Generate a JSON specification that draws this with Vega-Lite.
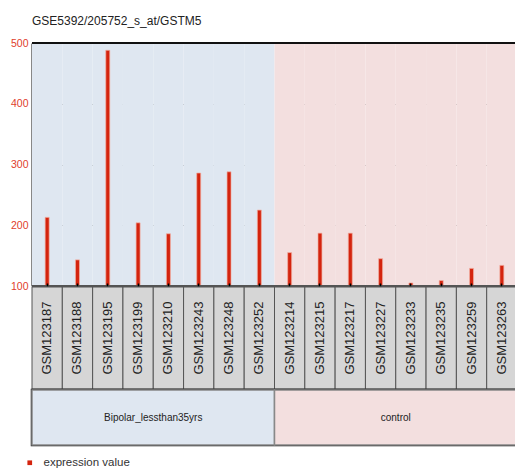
{
  "$schema": "https://vega.github.io/schema/vega-lite/v6.json",
  "background": "white",
  "padding": {"left": 10, "top": 15, "right": 0, "bottom": 0},
  "bounds": "flush",
  "title": {
    "text": "GSE5392/205752_s_at/GSTM5",
    "anchor": "start",
    "frame": "group",
    "font": "Liberation Sans",
    "fontSize": 12,
    "fontWeight": "normal",
    "color": "#222222",
    "offset": 10
  },
  "datasets": {
    "samples": [
      {"sample": "GSM123187", "group": "Bipolar_lessthan35yrs", "value": 213},
      {"sample": "GSM123188", "group": "Bipolar_lessthan35yrs", "value": 143},
      {"sample": "GSM123195", "group": "Bipolar_lessthan35yrs", "value": 488},
      {"sample": "GSM123199", "group": "Bipolar_lessthan35yrs", "value": 204},
      {"sample": "GSM123210", "group": "Bipolar_lessthan35yrs", "value": 186},
      {"sample": "GSM123243", "group": "Bipolar_lessthan35yrs", "value": 286},
      {"sample": "GSM123248", "group": "Bipolar_lessthan35yrs", "value": 288},
      {"sample": "GSM123252", "group": "Bipolar_lessthan35yrs", "value": 225},
      {"sample": "GSM123214", "group": "control", "value": 155},
      {"sample": "GSM123215", "group": "control", "value": 187},
      {"sample": "GSM123217", "group": "control", "value": 187},
      {"sample": "GSM123227", "group": "control", "value": 145},
      {"sample": "GSM123233", "group": "control", "value": 105},
      {"sample": "GSM123235", "group": "control", "value": 109},
      {"sample": "GSM123259", "group": "control", "value": 129},
      {"sample": "GSM123263", "group": "control", "value": 134}
    ],
    "groups": [
      {"group": "Bipolar_lessthan35yrs"},
      {"group": "control"}
    ]
  },
  "spacing": 1,
  "resolve": {"scale": {"x": "independent"}},
  "vconcat": [
    {
      "width": 485,
      "height": 243,
      "data": {"name": "samples"},
      "view": {"stroke": null},
      "layer": [
        {
          "mark": {"type": "rect"},
          "encoding": {
            "x": {
              "field": "sample",
              "type": "nominal",
              "sort": null,
              "scale": {"paddingInner": 0, "paddingOuter": 0},
              "axis": {
                "title": null,
                "labels": false,
                "domain": false,
                "ticks": true,
                "tickColor": "#000000",
                "tickSize": 3,
                "tickWidth": 1.5,
                "offset": -3,
                "minExtent": 0,
                "maxExtent": 0
              }
            },
            "fill": {
              "field": "group",
              "type": "nominal",
              "scale": {"domain": ["Bipolar_lessthan35yrs", "control"], "range": ["#dfe7f1", "#f3dfdf"]},
              "legend": null
            }
          }
        },
        {
          "mark": {"type": "bar", "size": 4, "stroke": "#f2b0a4", "strokeWidth": 0.7},
          "encoding": {
            "x": {"field": "sample", "type": "nominal", "sort": null},
            "y": {
              "field": "value",
              "type": "quantitative",
              "scale": {"domain": [100, 500], "zero": false, "nice": false},
              "axis": {
                "title": null,
                "values": [100, 200, 300, 400, 500],
                "grid": true,
                "gridColor": "#000000",
                "gridDash": [1, 1, 1, 1, 1, 1, 1, 2],
                "gridWidth": 1,
                "domain": true,
                "domainColor": "#111111",
                "domainWidth": 2,
                "ticks": false,
                "labelPadding": 4,
                "labelColor": "#e0402c",
                "labelFont": "Liberation Sans",
                "labelFontSize": 10.5
              }
            },
            "y2": {"datum": 100},
            "color": {
              "datum": "expression value",
              "scale": {"range": ["#d4240e"]},
              "legend": {
                "title": null,
                "orient": "none",
                "legendX": -8,
                "legendY": 414,
                "symbolType": "square",
                "symbolSize": 22,
                "symbolStrokeWidth": 0,
                "labelFont": "Liberation Sans",
                "labelFontSize": 11.5,
                "labelColor": "#333333",
                "labelOffset": 8
              }
            }
          }
        },
        {
          "mark": {"type": "rule", "color": "#111111", "strokeWidth": 2},
          "encoding": {"y": {"datum": 500}}
        },
        {
          "mark": {"type": "rule", "color": "#555555", "strokeWidth": 1.2},
          "encoding": {"y": {"datum": 100}}
        }
      ]
    },
    {
      "width": 485,
      "height": 102,
      "data": {"name": "samples"},
      "view": {"stroke": null},
      "encoding": {
        "x": {
          "field": "sample",
          "type": "nominal",
          "sort": null,
          "scale": {"paddingInner": 0, "paddingOuter": 0},
          "axis": null
        }
      },
      "layer": [
        {
          "mark": {"type": "rect", "fill": "#d6d6d6", "stroke": "#555555", "strokeWidth": 1}
        },
        {
          "mark": {
            "type": "text",
            "angle": 270,
            "align": "center",
            "baseline": "middle",
            "font": "Liberation Sans",
            "fontSize": 13,
            "color": "#222222"
          },
          "encoding": {"text": {"field": "sample"}}
        }
      ]
    },
    {
      "width": 485,
      "height": 55,
      "data": {"name": "groups"},
      "view": {"stroke": "#111111", "strokeWidth": 2.5},
      "encoding": {
        "x": {
          "field": "group",
          "type": "nominal",
          "sort": null,
          "scale": {"paddingInner": 0, "paddingOuter": 0},
          "axis": null
        }
      },
      "layer": [
        {
          "mark": {"type": "rect", "stroke": "#888888", "strokeWidth": 1.5},
          "encoding": {
            "fill": {
              "field": "group",
              "type": "nominal",
              "scale": {"domain": ["Bipolar_lessthan35yrs", "control"], "range": ["#dfe7f1", "#f3dfdf"]},
              "legend": null
            }
          }
        },
        {
          "mark": {
            "type": "text",
            "align": "center",
            "baseline": "middle",
            "font": "Liberation Sans",
            "fontSize": 10,
            "color": "#222222"
          },
          "encoding": {"text": {"field": "group"}}
        }
      ]
    }
  ]
}
